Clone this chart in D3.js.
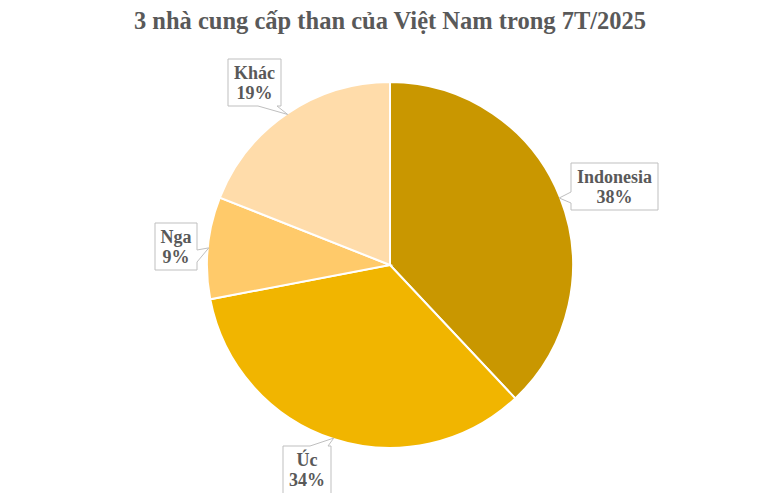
<!DOCTYPE html>
<html>
<head>
<meta charset="utf-8">
<script src="https://cdn.jsdelivr.net/npm/d3@7"></script>
<style>
  body { margin: 0; background: #fff; }
  svg { display: block; }
</style>
</head>
<body>
<div id="chart"></div>
<script>
// Data
var categories = ["Indonesia", "Úc", "Nga", "Khác"];
var shares = [38, 34, 9, 19];
var colors = ["#C99700", "#F1B500", "#FFCA6A", "#FFDCAA"];
var title = "3 nhà cung cấp than của Việt Nam trong 7T/2025";

// Label callout boxes (layout only): box, side the pointer leaves from, notch range
var callouts = [
  { x: 571, y: 163, w: 87, h: 47, side: "left", n0: 192, n1: 203 },
  { x: 283, y: 446, w: 48, h: 52, side: "top", n0: 310, n1: 328 },
  { x: 155, y: 223, w: 42, h: 47, side: "right", n0: 250, n1: 262 },
  { x: 228, y: 59, w: 53, h: 47, side: "bottom", n0: 258, n1: 277 }
];

var w = 780, h = 493;
var cx = 390, cy = 265, r = 183;

var svg = d3.select("#chart")
  .append("svg")
  .attr("width", w)
  .attr("height", h);

svg.append("text")
  .attr("x", w / 2)
  .attr("y", 29)
  .attr("text-anchor", "middle")
  .style("font-family", "'Liberation Serif', 'Times New Roman', serif")
  .style("font-weight", "bold")
  .style("font-size", "24.5px")
  .style("fill", "#595959")
  .text(title);

var data = categories.map(function(c, i) { return { name: c, value: shares[i] }; });

var pie = d3.pie()
  .sort(null)
  .value(function(d) { return d.value; });

var arc = d3.arc().innerRadius(0).outerRadius(r);

var arcs = pie(data);

var g = svg.append("g").attr("transform", "translate(" + cx + "," + cy + ")");

g.selectAll("path")
  .data(arcs)
  .enter()
  .append("path")
  .attr("d", arc)
  .style("fill", function(d, i) { return colors[i]; })
  .style("stroke", "#fff")
  .style("stroke-width", 2);

// callout shape: rectangle with a pointer to the slice edge
function calloutPath(b, tip) {
  var x0 = b.x, y0 = b.y, x1 = b.x + b.w, y1 = b.y + b.h;
  var p = [];
  p.push([x0, y0]);
  if (b.side == "top") { p.push([b.n0, y0], tip, [b.n1, y0]); }
  p.push([x1, y0]);
  if (b.side == "right") { p.push([x1, b.n0], tip, [x1, b.n1]); }
  p.push([x1, y1]);
  if (b.side == "bottom") { p.push([b.n1, y1], tip, [b.n0, y1]); }
  p.push([x0, y1]);
  if (b.side == "left") { p.push([x0, b.n1], tip, [x0, b.n0]); }
  return "M" + p.map(function(q) { return q[0] + "," + q[1]; }).join("L") + "Z";
}

arcs.forEach(function(d, i) {
  var a = (d.startAngle + d.endAngle) / 2;
  var tip = [cx + Math.sin(a) * (r - 1), cy - Math.cos(a) * (r - 1)];
  var b = callouts[i];
  svg.append("path")
    .attr("d", calloutPath(b, tip))
    .style("fill", "#fff")
    .style("stroke", "#BFBFBF")
    .style("stroke-width", 1);

  var t = svg.append("text")
    .attr("text-anchor", "middle")
    .style("font-family", "'Liberation Serif', 'Times New Roman', serif")
    .style("font-weight", "bold")
    .style("font-size", "18px")
    .style("fill", "#595959");
  t.append("tspan")
    .attr("x", b.x + b.w / 2)
    .attr("y", b.y + 20)
    .text(d.data.name);
  t.append("tspan")
    .attr("x", b.x + b.w / 2)
    .attr("y", b.y + 40)
    .text(d.data.value + "%");
});
</script>
</body>
</html>
